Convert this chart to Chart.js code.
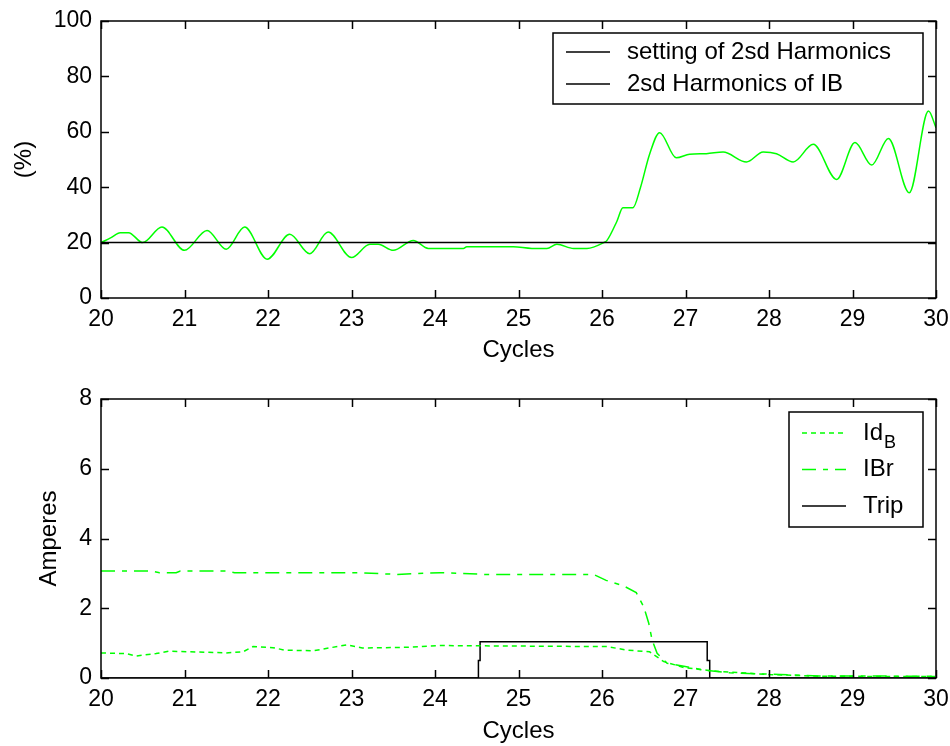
<!DOCTYPE html>
<html>
<head>
<meta charset="utf-8">
<script src="https://cdn.jsdelivr.net/npm/chart.js@4/dist/chart.umd.min.js"></script>
<style>
  html, body { margin: 0; padding: 0; background: #fff; }
  canvas { display: block; }
</style>
</head>
<body>
<canvas id="top" width="950" height="370"></canvas>
<canvas id="bottom" width="950" height="376"></canvas>
<script>
// ---- Data ----
const settingCycles = [20, 30];
const settingPercent = [20, 20];

const h2Cycles = [20.00, 20.12, 20.23, 20.33, 20.50, 20.73, 21.00, 21.27, 21.50, 21.72, 21.99, 22.26, 22.50, 22.72, 23.00, 23.22, 23.32, 23.50, 23.74, 23.92, 24.34, 24.38, 24.94, 25.16, 25.34, 25.46, 25.66, 25.82, 26.02, 26.06, 26.18, 26.25, 26.37, 26.46, 26.57, 26.69, 26.89, 27.05, 27.25, 27.45, 27.73, 27.93, 28.09, 28.29, 28.53, 28.81, 29.03, 29.23, 29.43, 29.68, 29.91, 30.00];
const h2Percent = [20.0, 21.8, 23.6, 23.6, 20.0, 25.6, 17.2, 24.4, 17.6, 25.6, 14.0, 23.0, 16.0, 23.8, 14.6, 19.4, 19.4, 17.2, 20.8, 17.9, 17.9, 18.5, 18.5, 17.9, 17.9, 19.4, 17.9, 17.9, 20.0, 20.8, 27.8, 32.6, 32.6, 39.8, 51.9, 59.7, 50.6, 51.9, 52.1, 52.7, 49.1, 52.7, 52.1, 49.1, 55.5, 42.8, 56.1, 48.0, 57.6, 38.0, 67.5, 61.5];

const idbCycles = [20.0, 20.3, 20.42, 20.66, 20.82, 21.5, 21.7, 21.82, 22.06, 22.2, 22.54, 22.94, 23.13, 23.66, 24.06, 26.06, 26.3, 26.57, 26.74, 26.98, 27.33, 28.0, 28.6, 30.0];
const idbAmps = [0.72, 0.70, 0.63, 0.70, 0.77, 0.72, 0.75, 0.90, 0.87, 0.80, 0.78, 0.95, 0.86, 0.88, 0.93, 0.90, 0.80, 0.75, 0.47, 0.30, 0.20, 0.10, 0.05, 0.04];

const ibrCycles = [20.0, 20.6, 20.7, 20.9, 20.95, 21.5, 21.6, 23.1, 23.54, 24.06, 24.6, 25.9, 26.05, 26.26, 26.41, 26.5, 26.56, 26.6, 26.66, 26.78, 26.98, 27.21, 27.53, 28.13, 28.6, 30.0];
const ibrAmps = [3.07, 3.07, 3.02, 3.02, 3.07, 3.07, 3.02, 3.02, 2.97, 3.02, 2.97, 2.97, 2.80, 2.64, 2.45, 2.04, 1.57, 1.09, 0.71, 0.42, 0.34, 0.23, 0.15, 0.10, 0.06, 0.05];

const tripCycles = [20, 24.52, 24.52, 24.54, 24.54, 27.26, 27.26, 27.29, 27.29, 30];
const tripAmps = [0, 0, 0.5, 0.5, 1.04, 1.04, 0.5, 0.5, 0, 0];

const topYTicks = { min: 0, max: 100, step: 20 };
const bottomYTicks = { min: 0, max: 8, step: 2 };
const xTicks = { min: 20, max: 30, step: 1 };

const pts = (xs, ys) => xs.map((x, i) => ({ x, y: ys[i] }));

// ---- Plugins ----
const frameTicks = {
  id: 'frameTicks',
  afterDraw(chart) {
    const { ctx, chartArea: { left, right, top, bottom }, scales: { x, y } } = chart;
    const L = 8;
    ctx.save();
    ctx.strokeStyle = '#000';
    ctx.lineWidth = 1.5;
    ctx.beginPath();
    x.ticks.forEach(t => {
      const px = Math.round(x.getPixelForValue(t.value)) + 0.5;
      ctx.moveTo(px, bottom); ctx.lineTo(px, bottom - L);
      ctx.moveTo(px, top); ctx.lineTo(px, top + L);
    });
    y.ticks.forEach(t => {
      const py = Math.round(y.getPixelForValue(t.value)) + 0.5;
      ctx.moveTo(left, py); ctx.lineTo(left + L, py);
      ctx.moveTo(right, py); ctx.lineTo(right - L, py);
    });
    ctx.stroke();
    ctx.strokeRect(left, top, right - left, bottom - top);
    ctx.restore();
  }
};

const boxLegend = {
  id: 'boxLegend',
  afterDraw(chart, args, opts) {
    if (!opts || !opts.items) return;
    const { ctx, chartArea } = chart;
    const right = chartArea.right - opts.offsetRight;
    const left = right - opts.width;
    const top = chartArea.top + opts.offsetTop;
    ctx.save();
    ctx.fillStyle = '#fff';
    ctx.fillRect(left, top, opts.width, opts.height);
    ctx.strokeStyle = '#000';
    ctx.lineWidth = 1.5;
    ctx.strokeRect(left, top, opts.width, opts.height);
    opts.items.forEach((it, i) => {
      const yy = top + opts.firstRow + i * opts.rowGap;
      ctx.beginPath();
      ctx.strokeStyle = it.color;
      ctx.lineWidth = 1.5;
      ctx.setLineDash(it.dash || []);
      ctx.moveTo(left + 13, yy); ctx.lineTo(left + 57, yy);
      ctx.stroke();
      ctx.setLineDash([]);
      ctx.fillStyle = '#000';
      ctx.textBaseline = 'middle';
      ctx.textAlign = 'left';
      ctx.font = '24px "Liberation Sans", Arial, sans-serif';
      ctx.fillText(it.text, left + 74, yy);
      if (it.sub) {
        const w = ctx.measureText(it.text).width;
        ctx.font = '18px "Liberation Sans", Arial, sans-serif';
        ctx.fillText(it.sub, left + 74 + w + 1, yy + 10);
      }
    });
    ctx.restore();
  }
};

const tickFont = { family: '"Liberation Sans", Arial, sans-serif', size: 23 };
const titleFont = { family: '"Liberation Sans", Arial, sans-serif', size: 24 };

function xScale(height) {
  return {
    type: 'linear', min: xTicks.min, max: xTicks.max,
    ticks: { stepSize: xTicks.step, color: '#000', font: tickFont, padding: 8, maxRotation: 0 },
    grid: { display: false, drawTicks: false },
    border: { display: false },
    title: { display: true, text: 'Cycles', color: '#000', font: titleFont, padding: { top: 0, bottom: 0 } },
    afterFit: s => { s.height = height; s.paddingLeft = 0; s.paddingRight = 0; }
  };
}
function yScale(cfg, label, width) {
  return {
    type: 'linear', min: cfg.min, max: cfg.max,
    ticks: { stepSize: cfg.step, color: '#000', font: tickFont, padding: 9 },
    grid: { display: false, drawTicks: false },
    border: { display: false },
    title: { display: true, text: label, color: '#000', font: titleFont, padding: { top: 0, bottom: 0 } },
    afterFit: s => { s.width = width; s.paddingTop = 0; s.paddingBottom = 0; }
  };
}

Chart.defaults.animation = false;

new Chart(document.getElementById('top'), {
  type: 'line',
  data: {
    datasets: [
      { label: 'setting of 2sd Harmonics', data: pts(settingCycles, settingPercent), borderColor: '#000', borderWidth: 1.5, pointRadius: 0 },
      { label: '2sd Harmonics of IB', data: pts(h2Cycles, h2Percent), borderColor: '#00ff00', borderWidth: 1.5, pointRadius: 0, cubicInterpolationMode: 'monotone' }
    ]
  },
  options: {
    responsive: false,
    animation: false,
    layout: { padding: { top: 21, bottom: 5, left: 10, right: 14 } },
    scales: { x: xScale(67), y: yScale(topYTicks, '(%)', 91) },
    plugins: {
      legend: { display: false },
      tooltip: { enabled: false },
      boxLegend: {
        width: 370, height: 71, offsetRight: 13, offsetTop: 12, firstRow: 19, rowGap: 32,
        items: [
          { text: 'setting of 2sd Harmonics', color: '#000' },
          { text: '2sd Harmonics of IB', color: '#000' }
        ]
      }
    }
  },
  plugins: [frameTicks, boxLegend]
});

new Chart(document.getElementById('bottom'), {
  type: 'line',
  data: {
    datasets: [
      { label: 'IdB', data: pts(idbCycles, idbAmps), borderColor: '#00ff00', borderWidth: 1.5, borderDash: [5, 4], pointRadius: 0 },
      { label: 'IBr', data: pts(ibrCycles, ibrAmps), borderColor: '#00ff00', borderWidth: 1.5, borderDash: [14, 7, 5, 7], pointRadius: 0 },
      { label: 'Trip', data: pts(tripCycles, tripAmps), borderColor: '#000', borderWidth: 1.5, pointRadius: 0 }
    ]
  },
  options: {
    responsive: false,
    animation: false,
    layout: { padding: { top: 29, bottom: 0, left: 35, right: 14 } },
    scales: { x: xScale(68), y: yScale(bottomYTicks, 'Amperes', 66) },
    plugins: {
      legend: { display: false },
      tooltip: { enabled: false },
      boxLegend: {
        width: 134, height: 115, offsetRight: 13, offsetTop: 13, firstRow: 21, rowGap: 36.5,
        items: [
          { text: 'Id', sub: 'B', color: '#00ff00', dash: [5, 4] },
          { text: 'IBr', color: '#00ff00', dash: [14, 7, 5, 7] },
          { text: 'Trip', color: '#000' }
        ]
      }
    }
  },
  plugins: [frameTicks, boxLegend]
});
</script>
</body>
</html>
